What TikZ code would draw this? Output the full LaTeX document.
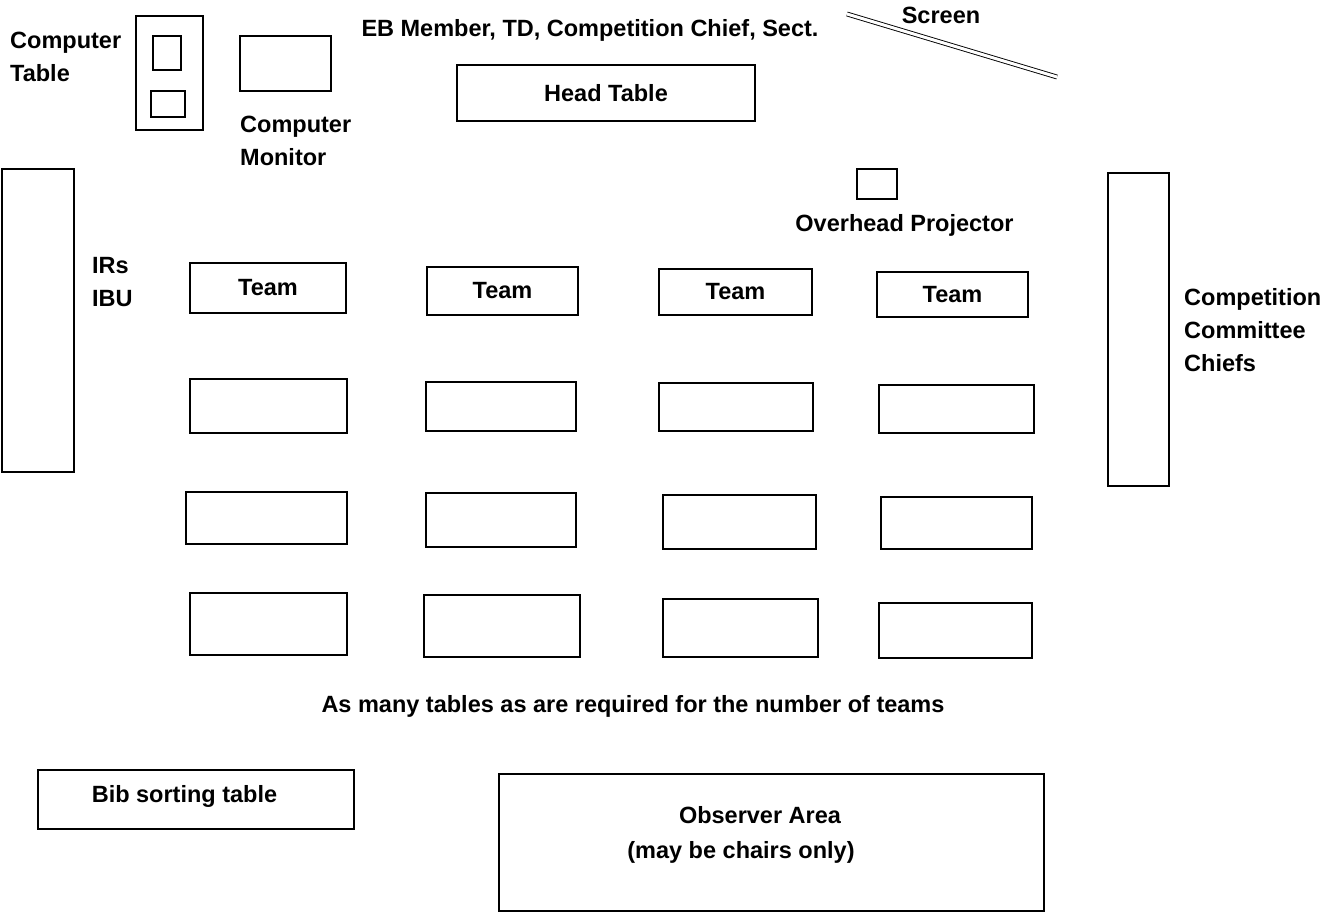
\documentclass[tikz,border=0pt]{standalone}
\usepackage{fontspec}
\setmainfont{Liberation Sans}
\usepackage{tikz}
\tikzset{tbl/.style 2 args = {draw, line width=1.6pt, minimum width=#1, minimum height=#2, inner sep=0pt}}
\tikzset{lbl/.style = {inner sep=0pt}}

\begin{document}
\begin{tikzpicture}[x=1pt, y=-1pt, every node/.style={font=\bfseries\fontsize{23.5}{33}\selectfont}]
			\useasboundingbox (0,0) rectangle (1321,914);
			% front of the room
			\begin{scope}
			    \node [tbl={67}{114}] (comptable) at (169.5,73) {};
			    \node [tbl={28}{34}] (cpu) at (167,53) {};
			    \node [tbl={34}{26}] (keyboard) at (168,104) {};
			    \node [tbl={91}{55}] (monitor) at (285.5,63.5) {};
			    \node [tbl={298}{56}] (head) at (606,93) {Head Table};
			    \node [tbl={40}{30}] (ohp) at (877,184) {};
			    \coordinate (scrA) at (847,14);
			    \coordinate (scrB) at (1057,77);
			    \draw [double, double distance=3pt, line width=0.9pt] (scrA) -- (scrB);
			\end{scope}
			\node [lbl, align=left, anchor=west] (comptablelbl) at (10,56.5) {Computer\\Table};
			\node [lbl, align=left, anchor=west] (monitorlbl) at (240,141) {Computer\\Monitor};
			\node [lbl, anchor=base] (headlbl) at (590,36.5) {EB Member, TD, Competition Chief, Sect.};
			\node [lbl, anchor=base] (screenlbl) at (941,23.5) {Screen};
			\node [lbl, anchor=base] (ohplbl) at (904.5,231.5) {Overhead Projector};
			% side tables
			\node [tbl={72}{303}] (irs) at (38,320.5) {};
			\node [lbl, align=left, anchor=west] (irslbl) at (92,282.5) {IRs\\IBU};
			\node [tbl={61}{313}] (chiefs) at (1138.5,329.5) {};
			\node [lbl, align=left, anchor=west] (chiefslbl) at (1184,330.5) {Competition\\Committee\\Chiefs};
			% team tables
			\begin{scope}
			    \node [tbl={156}{50}] (t11) at (268,288) {Team};
			    \node [tbl={151}{48}] (t12) at (502.5,291) {Team};
			    \node [tbl={153}{46}] (t13) at (735.5,292) {Team};
			    \node [tbl={151}{45}] (t14) at (952.5,294.5) {Team};
			    \node [tbl={157}{54}] (t21) at (268.5,406) {};
			    \node [tbl={150}{49}] (t22) at (501,406.5) {};
			    \node [tbl={154}{48}] (t23) at (736,407) {};
			    \node [tbl={155}{48}] (t24) at (956.5,409) {};
			    \node [tbl={161}{52}] (t31) at (266.5,518) {};
			    \node [tbl={150}{54}] (t32) at (501,520) {};
			    \node [tbl={153}{54}] (t33) at (739.5,522) {};
			    \node [tbl={151}{52}] (t34) at (956.5,523) {};
			    \node [tbl={157}{62}] (t41) at (268.5,624) {};
			    \node [tbl={156}{62}] (t42) at (502,626) {};
			    \node [tbl={155}{58}] (t43) at (740.5,628) {};
			    \node [tbl={153}{55}] (t44) at (955.5,630.5) {};
			\end{scope}
			\node [lbl, anchor=base] (note) at (633,712) {As many tables as are required for the number of teams};
			% back of the room
			\node [tbl={316}{59}] (bib) at (196,799.5) {};
			\node [lbl, anchor=base] (biblbl) at (184.5,802.5) {Bib sorting table};
			\node [tbl={545}{137}] (observer) at (771.5,842.5) {};
			\node [lbl, anchor=base] (observerlbl) at (760,823.5) {Observer Area};
			\node [lbl, anchor=base] (chairslbl) at (741,858) {(may be chairs only)};
		\end{tikzpicture}
\end{document}
